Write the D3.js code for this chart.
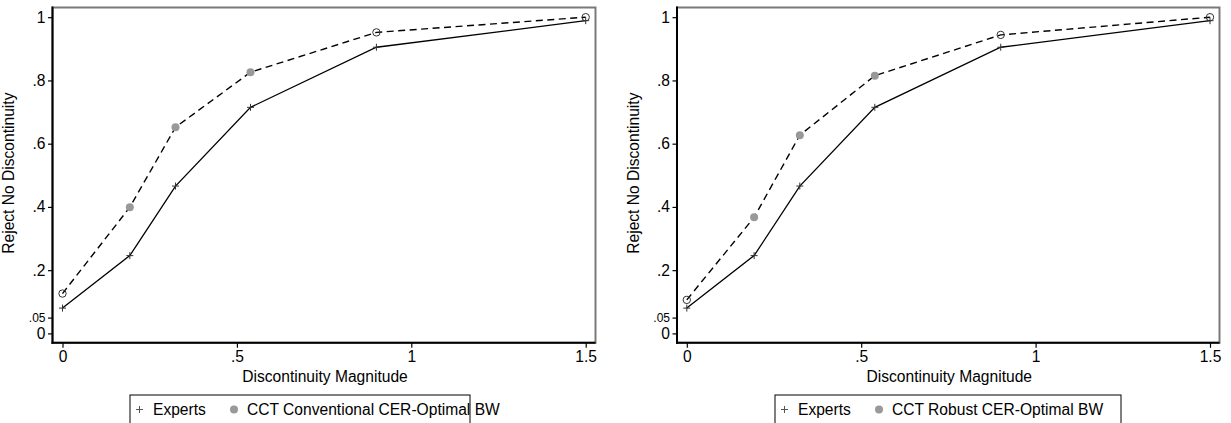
<!DOCTYPE html>
<html><head><meta charset="utf-8">
<script src="https://cdn.jsdelivr.net/npm/d3@7"></script>
<style>body{margin:0;background:#fff}svg{display:block}text{font-family:"Liberation Sans",Arial,sans-serif}</style>
</head><body>
<svg id="c" width="1231" height="423"></svg>
<script>
const magnitudes = [0, 0.193, 0.324, 0.539, 0.9, 1.5];
const experts = [0.080, 0.246, 0.466, 0.715, 0.905, 0.989];
const cctConventional = [0.126, 0.399, 0.652, 0.826, 0.952, 1.0];
const cctRobust = [0.106, 0.367, 0.627, 0.815, 0.944, 1.0];
const cctFilled = [false, true, true, true, false, false];
const yTicks = [0, 0.05, 0.2, 0.4, 0.6, 0.8, 1];
const yTickLabels = ["0", ".05", ".2", ".4", ".6", ".8", "1"];
const xTicks = [0, 0.5, 1, 1.5];
const xTickLabels = ["0", ".5", "1", "1.5"];
const panels = [
  {series: cctConventional, legend: "CCT Conventional CER-Optimal BW", left: 52.5, right: 595.5, x0: 62.5, legX: 130, legW: 340},
  {series: cctRobust, legend: "CCT Robust CER-Optimal BW", left: 677, right: 1219.5, x0: 686.8, legX: 775, legW: 346}
];
const svg = d3.select("#c");
const plotTop = 7.5, plotBottom = 342.8;
const fs = "15.6px";

panels.forEach(p => {
  const g = svg.append("g");
  const x = d3.scaleLinear().domain([0, 1.5]).range([p.x0, p.x0 + 3 * 174.4]);
  const y = d3.scaleLinear().domain([0, 1]).range([333.4, 17.2]);
  g.append("rect").attr("x", p.left).attr("y", plotTop).attr("width", p.right - p.left).attr("height", plotBottom - plotTop)
    .attr("fill", "none").attr("stroke", "#7a7a7a").attr("stroke-width", 2);
  const ya = g.append("g").attr("transform", `translate(${p.left},0)`)
    .call(d3.axisLeft(y).tickValues(yTicks).tickFormat((d, i) => yTickLabels[i]).tickSize(4.5).tickPadding(2.5));
  const xa = g.append("g").attr("transform", `translate(0,${plotBottom})`)
    .call(d3.axisBottom(x).tickValues(xTicks).tickFormat((d, i) => xTickLabels[i]).tickSize(5).tickPadding(3));
  [ya, xa].forEach(a => {
    a.select(".domain").remove();
    a.selectAll("line").attr("stroke", "#000").attr("stroke-width", 1.2);
    a.selectAll("text").attr("fill", "#000").style("font-size", fs);
  });
  ya.selectAll("text").filter(d => d === 0.05).style("font-size", "12px").attr("dy", "0.3em");
  g.append("line").attr("x1", p.left).attr("x2", p.left).attr("y1", plotTop - 1).attr("y2", plotBottom + 1).attr("stroke", "#000").attr("stroke-width", 2);
  g.append("line").attr("x1", p.left - 1).attr("x2", p.right).attr("y1", plotBottom).attr("y2", plotBottom).attr("stroke", "#000").attr("stroke-width", 2);
  g.append("text").attr("text-anchor", "middle").style("font-size", fs).text("Reject No Discontinuity")
    .attr("transform", `translate(${p.left - 38.5},${(plotTop + plotBottom) / 2 - 2}) rotate(-90)`);
  g.append("text").attr("x", (p.left + p.right) / 2 + 1).attr("y", 382).attr("text-anchor", "middle")
    .style("font-size", fs).text("Discontinuity Magnitude");
  const line = d3.line().x(d => x(d[0])).y(d => y(d[1]));
  const cct = magnitudes.map((m, i) => [m, p.series[i], cctFilled[i]]);
  const exp = magnitudes.map((m, i) => [m, experts[i]]);
  g.append("path").attr("d", line(cct)).attr("fill", "none").attr("stroke", "#000").attr("stroke-width", 1.4).attr("stroke-dasharray", "7,4.5");
  g.append("path").attr("d", line(exp)).attr("fill", "none").attr("stroke", "#000").attr("stroke-width", 1.3);
  cct.forEach(d => {
    if (d[2]) g.append("circle").attr("cx", x(d[0])).attr("cy", y(d[1])).attr("r", 4).attr("fill", "#999");
    else g.append("circle").attr("cx", x(d[0])).attr("cy", y(d[1])).attr("r", 3.7).attr("fill", "none").attr("stroke", "#333").attr("stroke-width", 1);
  });
  exp.forEach(d => {
    const cx = x(d[0]), cy = y(d[1]);
    g.append("path").attr("d", `M${cx - 3.5},${cy}H${cx + 3.5}M${cx},${cy - 3.5}V${cy + 3.5}`).attr("stroke", "#333").attr("stroke-width", 1);
  });
  const lg = g.append("g");
  lg.append("rect").attr("x", p.legX).attr("y", 395).attr("width", p.legW).attr("height", 32).attr("fill", "#fff").attr("stroke", "#000").attr("stroke-width", 1);
  const ly = 409.5;
  lg.append("path").attr("d", `M${p.legX + 6},${ly}H${p.legX + 13}M${p.legX + 9.5},${ly - 3.5}V${ly + 3.5}`).attr("stroke", "#555").attr("stroke-width", 1);
  lg.append("text").attr("x", p.legX + 23).attr("y", ly + 5.5).style("font-size", fs).text("Experts");
  lg.append("circle").attr("cx", p.legX + 104).attr("cy", ly).attr("r", 4).attr("fill", "#999");
  lg.append("text").attr("x", p.legX + 117).attr("y", ly + 5.5).style("font-size", fs).text(p.legend);
});
</script>
</body></html>
